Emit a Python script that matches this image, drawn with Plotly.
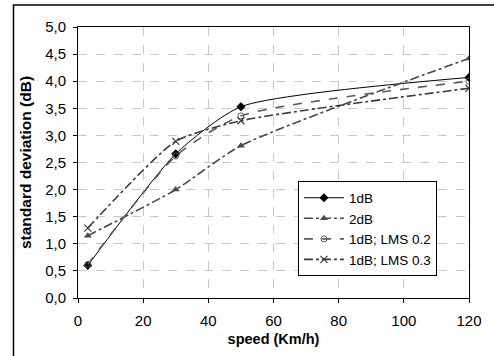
import plotly.graph_objects as go

speed = [3, 30, 50, 120]
s_1db = [0.60, 2.66, 3.53, 4.07]
s_2db = [1.15, 2.00, 2.81, 4.42]
s_lms02 = [0.62, 2.62, 3.36, 4.00]
s_lms03 = [1.29, 2.89, 3.27, 3.87]

series = [
    ("1dB", s_1db, dict(color="black", width=1, dash="solid"), dict(symbol="diamond", size=7, color="black")),
    ("2dB", s_2db, dict(color="#4a4a4a", width=1.6, dash="dashdot"), dict(symbol="triangle-up", size=7, color="#4a4a4a")),
    ("1dB; LMS 0.2", s_lms02, dict(color="#5a5a5a", width=1.6, dash="dash"), dict(symbol="circle-open", size=6, color="#5a5a5a", line=dict(width=1))),
    ("1dB; LMS 0.3", s_lms03, dict(color="#3a3a3a", width=1.6, dash="dashdot"), dict(symbol="x-thin-open", size=7, color="#3a3a3a", line=dict(width=1.2))),
]

fig = go.Figure()
for name, ys, ln, mk in series:
    fig.add_trace(go.Scatter(x=speed, y=ys, name=name, mode="lines+markers",
                             line=dict(shape="spline", smoothing=0.6, **ln), marker=mk))

axis_common = dict(showline=True, linecolor="black", linewidth=1, mirror=True,
                   showgrid=True, gridcolor="#c8c8c8", griddash="dash", gridwidth=1,
                   ticks="outside", ticklen=4, tickcolor="black", zeroline=False,
                   tickfont=dict(family="Liberation Sans, Arial", size=15, color="black"))

fig.update_layout(
    width=494, height=356,
    margin=dict(l=78, r=16, t=27, b=57),
    paper_bgcolor="white", plot_bgcolor="white",
    separators=",.",
    font=dict(family="Liberation Sans, Arial", color="black"),
    xaxis=dict(range=[0, 120], tickvals=[0, 20, 40, 60, 80, 100, 120], ticklabelstandoff=5,
               title=dict(text="<b>speed (Km/h)</b>", font=dict(size=14.5), standoff=5), **axis_common),
    yaxis=dict(range=[0, 5], dtick=0.5, tickformat=".1f", ticklabelstandoff=4,
               title=dict(text="<b>standard deviation (dB)</b>", font=dict(size=15.5), standoff=9), **axis_common),
    legend=dict(x=0.5625, y=0.43, xanchor="left", yanchor="top",
                bgcolor="white", bordercolor="black", borderwidth=1,
                font=dict(size=13.5), tracegroupgap=0, itemwidth=40),
    showlegend=True,
)

fig.add_shape(type="rect", xref="paper", yref="paper",
              x0=-0.165, x1=1.2, y0=-0.4, y1=1.081,
              line=dict(color="black", width=1.5), fillcolor="rgba(0,0,0,0)", layer="below")

fig.write_html("out.html")
